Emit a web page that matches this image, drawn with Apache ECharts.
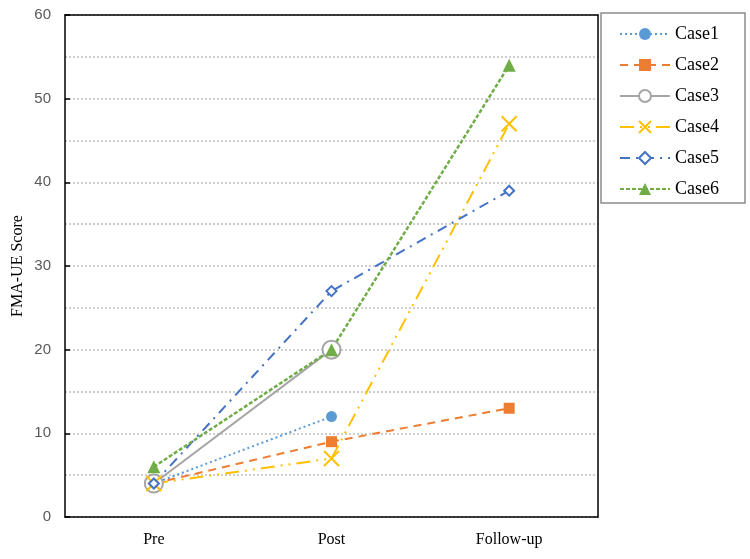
<!DOCTYPE html>
<html>
<head>
<meta charset="utf-8">
<script src="https://cdn.jsdelivr.net/npm/echarts@6/dist/echarts.min.js"></script>
<style>
  html, body { margin: 0; padding: 0; background: #fff; }
  #chart { width: 750px; height: 559px; }
</style>
</head>
<body>
<div id="chart"></div>
<script>
// categories and values
const phases = ["Pre", "Post", "Follow-up"];
const case1 = [4, 12, null];
const case2 = [4, 9, 13];
const case3 = [4, 20, null];
const case4 = [4, 7, 47];
const case5 = [4, 27, 39];
const case6 = [6, 20, 54];

const serif = '"Liberation Serif", "Times New Roman", serif';
const xPath = 'path://M0,0L10,10M10,0L0,10';

function mkSeries(name, data, color, dash, symbol, size, extra) {
    let s = {
        name: name,
        type: 'line',
        data: data,
        symbol: symbol,
        symbolSize: size,
        lineStyle: { color: color, width: 2, type: dash },
        itemStyle: { color: color },
        emphasis: { disabled: true },
        z: 2
    };
    return Object.assign(s, extra || {});
}

const chart = echarts.init(document.getElementById('chart'), null, { renderer: 'canvas' });

// frame lines on top / right drawn as plain axes so they sit above the grid lines
const frameLine = { show: true, onZero: false, lineStyle: { color: '#000', width: 1.5 } };

const option = {
    animation: false,
    grid: { left: 65, right: 152, top: 15, bottom: 42 },
    legend: {
        orient: 'vertical',
        left: 601, top: 13,
        padding: [12, 26, 5, 18],
        itemWidth: 50, itemHeight: 15, itemGap: 13,
        backgroundColor: '#fff',
        borderColor: '#8c8c8c', borderWidth: 1.5,
        textStyle: { fontFamily: serif, fontSize: 18, color: '#000' },
        data: ['Case1', 'Case2', 'Case3', 'Case4', 'Case5', 'Case6']
    },
    xAxis: [{
        type: 'category',
        data: phases,
        boundaryGap: true,
        axisLine: { lineStyle: { color: '#000', width: 1.5 } },
        axisTick: { inside: true, alignWithLabel: true, length: 5, lineStyle: { color: '#000', width: 1.5 } },
        axisLabel: { fontFamily: serif, fontSize: 16, color: '#000', margin: 15 },
        splitLine: { show: false }
    }, {
        type: 'category', position: 'top', data: phases,
        axisLine: frameLine, axisTick: { show: false }, axisLabel: { show: false }, splitLine: { show: false }
    }],
    yAxis: [{
        type: 'value',
        min: 0, max: 60, interval: 10,
        name: 'FMA-UE Score',
        nameLocation: 'middle',
        nameGap: 39,
        nameMoveOverlap: false,
        nameTextStyle: { fontFamily: serif, fontSize: 16, color: '#000' },
        axisLine: { show: true, lineStyle: { color: '#000', width: 1.5 } },
        axisTick: { show: true, inside: true, length: 5, lineStyle: { color: '#000', width: 1.5 } },
        axisLabel: { fontFamily: '"Liberation Sans", Arial, sans-serif', fontSize: 15, color: '#595959', margin: 14 },
        splitLine: { show: true, lineStyle: { color: '#bfbfbf', width: 1.5, type: [2, 2] } },
        minorTick: { show: false, splitNumber: 2 },
        minorSplitLine: { show: true, lineStyle: { color: '#bfbfbf', width: 1.5, type: [2, 2] } }
    }, {
        type: 'value', position: 'right', min: 0, max: 60, interval: 10,
        axisLine: frameLine, axisTick: { show: false }, axisLabel: { show: false }, splitLine: { show: false }
    }],
    series: [
        mkSeries('Case1', case1, '#5B9BD5', [2, 3], 'circle', 11),
        mkSeries('Case2', case2, '#ED7D31', [8, 6], 'rect', 11),
        mkSeries('Case3', case3, '#A5A5A5', 'solid', 'emptyCircle', 18,
            { itemStyle: { color: '#A5A5A5', borderWidth: 1.5 } }),
        mkSeries('Case4', case4, '#FFC000', [14, 6, 2, 6, 2, 6], xPath, 15,
            { itemStyle: { color: '#FFC000', borderColor: '#FFC000', borderWidth: 2 } }),
        mkSeries('Case5', case5, '#4472C4', [10, 6, 2, 6], 'emptyDiamond', 10,
            { itemStyle: { color: '#4472C4', borderWidth: 2 } }),
        mkSeries('Case6', case6, '#70AD47', [4, 2], 'triangle', 13, { lineStyle: { color: '#70AD47', width: 2.5, type: [4, 2] } })
    ]
};

chart.setOption(option);
</script>
</body>
</html>
